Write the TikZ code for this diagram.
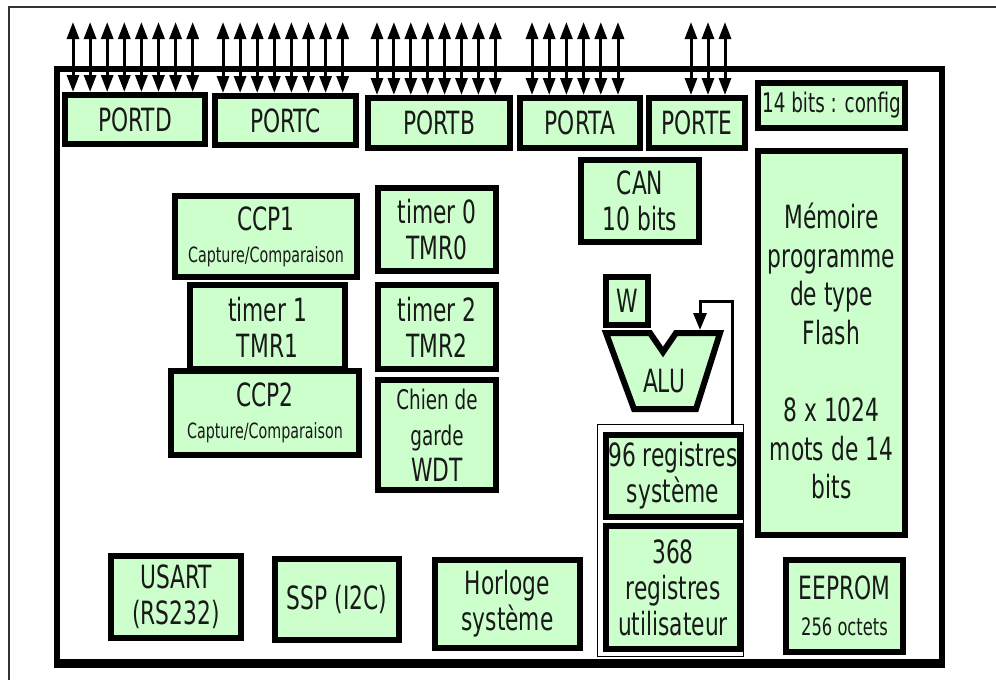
\documentclass[tikz,border=0pt]{standalone}
\usepackage{fontspec}
\setmainfont{DejaVu Sans}[FakeStretch=0.68]
\usetikzlibrary{arrows.meta}
\definecolor{boxgreen}{RGB}{204,255,204}
\definecolor{txt}{RGB}{25,25,25}
\begin{document}
\begin{tikzpicture}[x=1pt,y=-1pt,
  blk/.style={draw=black, line width=6pt, fill=boxgreen, inner sep=0pt, align=center,
    font=\fontsize{32}{36}\selectfont, text=txt},
  pin/.style={line width=3pt, {Triangle[width=12pt,length=17pt]}-{Triangle[width=12pt,length=17pt]}},
]
\useasboundingbox (0,0) rectangle (996,680);
% thin outer border
\draw[line width=1.5pt, black!80] (9,680) -- (9,7) -- (996,7);
% main frame
\draw[line width=6pt] (56.5,68.5) rectangle (942,663);
\draw[line width=9pt] (54,663.5) -- (945,663.5);
% register group thin frame
\node[draw, line width=1.5pt, minimum width=146pt, minimum height=232pt, inner sep=0pt] (regframe) at (670.5,540.5) {};

% ports
\node[blk, minimum width=140pt, minimum height=49pt] (portd) at (135,119.5) {PORTD};
\node[blk, minimum width=141pt, minimum height=49pt] (portc) at (285.5,120.5) {PORTC};
\node[blk, minimum width=142pt, minimum height=50pt] (portb) at (439,123) {PORTB};
\node[blk, minimum width=120pt, minimum height=50pt] (porta) at (580,123) {PORTA};
\node[blk, minimum width=96pt, minimum height=50pt] (porte) at (697,123) {PORTE};

\foreach \i in {0,...,7} {
  \coordinate (pd\i) at ({73+17.1*\i},22);
  \draw[pin] (pd\i) -- (pd\i |- portd.north);
  \coordinate (pc\i) at ({223+17.1*\i},22);
  \draw[pin] (pc\i) -- (pc\i |- portc.north);
  \coordinate (pb\i) at ({377+16.9*\i},22);
  \draw[pin] (pb\i) -- (pb\i |- portb.north);
}
\foreach \i in {0,...,5} {
  \coordinate (pa\i) at ({532+17.2*\i},22);
  \draw[pin] (pa\i) -- (pa\i |- porta.north);
}
\foreach \i in {0,...,2} {
  \coordinate (pe\i) at ({691+17*\i},22);
  \draw[pin] (pe\i) -- (pe\i |- porte.north);
}

% memory column
\node[blk, minimum width=147pt, minimum height=45pt, font=\fontsize{27}{30}\selectfont] (cfg) at (831.5,105.5) {14 bits : config};
\node[blk, minimum width=147pt, minimum height=384pt] (flash) at (831.5,343) {};
\node[align=center, font=\fontsize{32}{38.6}\selectfont, text=txt] (flashtxt) at (831.5,351)
  {Mémoire\\programme\\de type\\Flash\\[38.6pt]8 x 1024\\mots de 14\\bits};
\node[blk, minimum width=118pt, minimum height=82pt] (can) at (640,201) {CAN\\10 bits};

% W and ALU
\node[blk, minimum width=42pt, minimum height=48pt] (w) at (627,301) {W};
\draw[line width=6pt, fill=boxgreen, line join=miter]
  (606,333) -- (650,333) -- (663,352) -- (676,333) -- (720,333) -- (696,409) -- (634,409) -- cycle;
\node[font=\fontsize{32}{36}\selectfont, text=txt] (alu) at (664,381) {ALU};
\coordinate (fb0) at (732,424.75);
\coordinate (fb1) at (732,301);
\coordinate (fb2) at (700,301);
\coordinate (fb3) at (700,330);
\draw[line width=3pt, -{Triangle[width=13pt,length=17pt]}] (fb0) -- (fb1) -- (fb2) -- (fb3);

% registers
\node[blk, minimum width=134pt, minimum height=82pt] (reg96) at (673,476) {96 registres\\système};
\node[blk, minimum width=134pt, minimum height=123pt] (reg368) at (673,587.5) {368\\registres\\utilisateur};

% CCP / timers
\node[blk, minimum width=182pt, minimum height=81pt] (ccp1) at (266,236.5)
  {CCP1\\[-4pt]{\fontsize{21}{22}\selectfont Capture/Comparaison}};
\node[blk, minimum width=155pt, minimum height=84pt] (tmr1) at (267.5,327) {timer 1\\TMR1};
\node[blk, minimum width=188pt, minimum height=84pt] (ccp2) at (265,413)
  {CCP2\\[-4pt]{\fontsize{21}{22}\selectfont Capture/Comparaison}};
\node[blk, minimum width=118pt, minimum height=83pt] (tmr0) at (437,229.5) {timer 0\\TMR0};
\node[blk, minimum width=118pt, minimum height=84pt] (tmr2) at (437,327) {timer 2\\TMR2};
\node[blk, minimum width=118pt, minimum height=110pt] (wdt) at (437,435)
  {{\fontsize{27}{34}\selectfont Chien de}\\{\fontsize{27}{34}\selectfont garde}\\WDT};

% bottom row
\node[blk, minimum width=130pt, minimum height=82pt] (usart) at (176,597) {USART\\(RS232)};
\node[blk, minimum width=124pt, minimum height=81pt] (ssp) at (337,599.5) {SSP (I2C)};
\node[blk, minimum width=145pt, minimum height=88pt] (clk) at (507.5,604) {Horloge\\système};
\node[blk, minimum width=117pt, minimum height=92pt] (eeprom) at (844.5,606)
  {EEPROM\\{\fontsize{24}{30}\selectfont 256 octets}};
\end{tikzpicture}
\end{document}
